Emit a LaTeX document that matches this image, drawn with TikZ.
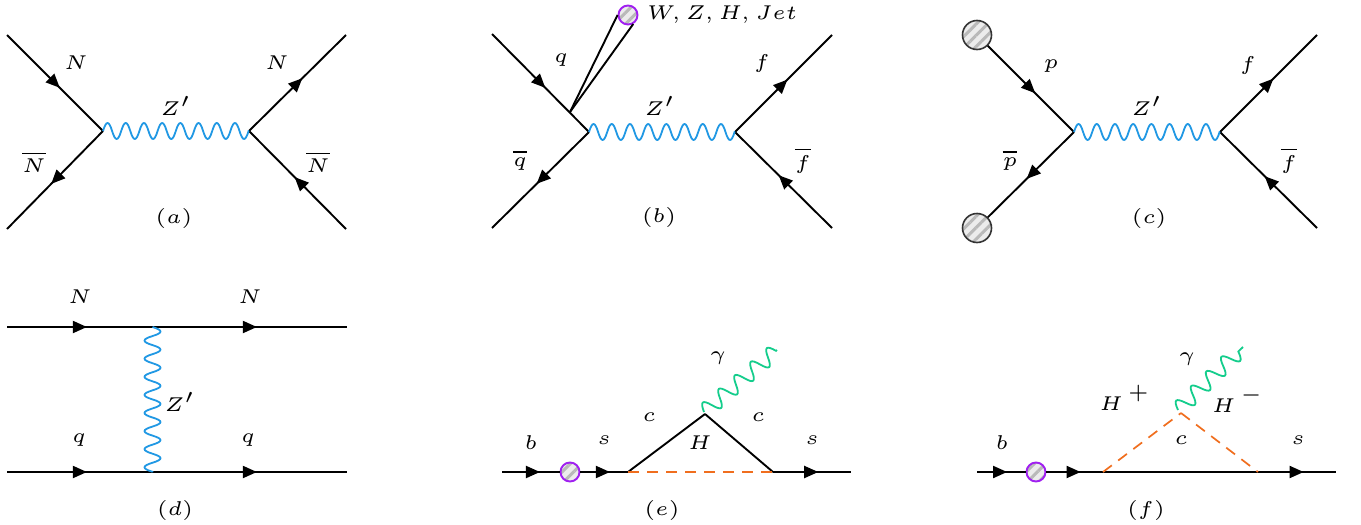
\documentclass[tikz,border=0pt]{standalone}
\usetikzlibrary{arrows.meta,decorations.markings,decorations,patterns.meta}
\definecolor{zblue}{RGB}{32,152,228}
\definecolor{pgreen}{RGB}{20,205,140}
\definecolor{horange}{RGB}{240,110,30}
\definecolor{vpurple}{RGB}{160,32,240}
\pgfdeclaredecoration{sinewave}{up}{
  \state{up}[width=0.5*\pgfdecorationsegmentlength,next state=down]{
    \pgfpathcurveto{\pgfpoint{0.1821*\pgfdecorationsegmentlength}{1.3333*\pgfdecorationsegmentamplitude}}
                   {\pgfpoint{0.3179*\pgfdecorationsegmentlength}{1.3333*\pgfdecorationsegmentamplitude}}
                   {\pgfpoint{0.5*\pgfdecorationsegmentlength}{0pt}}
  }
  \state{down}[width=0.5*\pgfdecorationsegmentlength,next state=up]{
    \pgfpathcurveto{\pgfpoint{0.1821*\pgfdecorationsegmentlength}{-1.3333*\pgfdecorationsegmentamplitude}}
                   {\pgfpoint{0.3179*\pgfdecorationsegmentlength}{-1.3333*\pgfdecorationsegmentamplitude}}
                   {\pgfpoint{0.5*\pgfdecorationsegmentlength}{0pt}}
  }
  \state{final}{\pgfpathlineto{\pgfpointdecoratedpathlast}}
}
\tikzset{
  lab/.style={font=\tiny,scale=4,transform shape,inner sep=0pt},
  fermion/.style={line width=1.9pt,black},
  arr/.style={postaction={decorate,decoration={markings,mark=at position #1 with {\arrow{Triangle[length=14pt,width=12pt]}}}}},
  zwave/.style={decorate,decoration={sinewave,segment length=#1,amplitude=8pt},line width=1.8pt,zblue},
  gwave/.style={decorate,decoration={sinewave,segment length=#1,amplitude=8pt},line width=1.8pt,pgreen},
  scalar/.style={dash pattern=on 11pt off 8pt,line width=1.7pt,horange},
  hatch/.style={circle,minimum size=#1,inner sep=0pt,preaction={fill=gray!15},pattern={Lines[angle=45,distance=8pt,line width=3pt]},pattern color=gray!55},
  blobp/.style={hatch=19pt,draw=vpurple,line width=1.9pt},
  blobk/.style={hatch=29pt,draw=black!80,line width=1.6pt}
}
\begin{document}
\begin{tikzpicture}[x=1pt,y=-1pt]
\useasboundingbox[fill=white] (0,0) rectangle (1361,525);
% (a)
\coordinate (a1) at (7,35); \coordinate (a2) at (7,229); \coordinate (av) at (103,131);
\coordinate (aw) at (249,131); \coordinate (a3) at (346,35); \coordinate (a4) at (346,229);
\draw[fermion,arr=.55] (a1) -- (av);
\draw[fermion,arr=.54] (av) -- (a2);
\draw[fermion,arr=.55] (aw) -- (a3);
\draw[fermion,arr=.53] (a4) -- (aw);
\draw[zwave=18.2pt] (av) -- (aw);
\node[lab] (la1) at (76,63) {$N$};
\node[lab] (la2) at (34,162) {$\overline{N}$};
\node[lab] (la3) at (176,106) {$Z'$};
\node[lab] (la4) at (277,63) {$N$};
\node[lab] (la5) at (318,162) {$\overline{N}$};
\node[lab] (la6) at (174,218) {$(a)$};
% (b)
\coordinate (b1) at (492,34); \coordinate (b2) at (492,228); \coordinate (bv) at (589,132);
\coordinate (bw) at (735,132); \coordinate (b3) at (832,35); \coordinate (b4) at (832,228);
\coordinate (bb) at (570,112);
\node[blobp] (bc) at (628,15) {};
\draw[fermion,arr=.55] (b1) -- (bv);
\draw[fermion,arr=.54] (bv) -- (b2);
\draw[fermion,arr=.54] (bw) -- (b3);
\draw[fermion,arr=.55] (b4) -- (bw);
\draw[fermion] (bb) -- (bc.180);
\draw[fermion] (bb) -- (bc.300);
\draw[zwave=18.2pt] (bv) -- (bw);
\node[lab] (lb1) at (561,60) {$q$};
\node[lab] (lb2) at (520,160) {$\overline{q}$};
\node[lab] (lb3) at (660,106) {$Z'$};
\node[lab] (lb4) at (762,63) {$f$};
\node[lab] (lb5) at (803,160) {$\overline{f}$};
\node[lab] (lb6) at (659,217) {$(b)$};
\node[lab,anchor=west] (lb7) at (646,15) {$W,Z,H,Jet$};
% (c)
\node[blobk] (c1) at (977,35) {};
\node[blobk] (c2) at (977,228) {};
\coordinate (cv) at (1074,132); \coordinate (cw) at (1220,132);
\coordinate (c3) at (1317,35); \coordinate (c4) at (1317,228);
\draw[fermion,arr=.55] (c1) -- (cv);
\draw[fermion,arr=.55] (cv) -- (c2);
\draw[fermion,arr=.55] (cw) -- (c3);
\draw[fermion,arr=.54] (c4) -- (cw);
\draw[zwave=18.2pt] (cv) -- (cw);
\node[lab] (lc1) at (1051,66) {$p$};
\node[lab] (lc2) at (1010,160) {$\overline{p}$};
\node[lab] (lc3) at (1147,106) {$Z'$};
\node[lab] (lc4) at (1248,65) {$f$};
\node[lab] (lc5) at (1289,160) {$\overline{f}$};
\node[lab] (lc6) at (1149,218) {$(c)$};
% (d)
\coordinate (d1) at (7,327); \coordinate (d2) at (347,327); \coordinate (d3) at (7,472); \coordinate (d4) at (347,472);
\coordinate (dt) at (152.5,327); \coordinate (db) at (152.5,472);
\draw[fermion,arr=.235,arr=.735] (d1) -- (d2);
\draw[fermion,arr=.235,arr=.735] (d3) -- (d4);
\draw[zwave=18.1pt] (dt) -- (db);
\node[lab] (ld1) at (80,297) {$N$};
\node[lab] (ld2) at (250,297) {$N$};
\node[lab] (ld3) at (79,440) {$q$};
\node[lab] (ld4) at (248,440) {$q$};
\node[lab] (ld5) at (180,402) {$Z'$};
\node[lab] (ld6) at (175,510) {$(d)$};
% (e)
\coordinate (e1) at (502,472); \coordinate (ev) at (628,472); \coordinate (ea) at (705,414);
\coordinate (ew) at (773,472); \coordinate (e2) at (851,472); \coordinate (eg) at (777,350);
\coordinate (es) at (704,412);
\node[blobp] (ec) at (570,472) {};
\draw[fermion,arr=.66] (e1) -- (ec);
\draw[fermion,arr=.62] (ec) -- (ev);
\draw[fermion] (ev) -- (ea);
\draw[fermion] (ea) -- (ew);
\draw[fermion,arr=.58] (ew) -- (e2);
\draw[scalar] (ev) -- (ew);
\draw[gwave=21pt] (es) -- (eg);
\node[lab] (le1) at (531,443) {$b$};
\node[lab] (le2) at (604,440) {$s$};
\node[lab] (le3) at (649,417) {$c$};
\node[lab] (le4) at (700,443) {$H$};
\node[lab] (le5) at (758,417) {$c$};
\node[lab] (le6) at (812,440) {$s$};
\node[lab] (le7) at (718,358) {$\gamma$};
\node[lab] (le8) at (662,510) {$(e)$};
% (f)
\coordinate (f1) at (977,472); \coordinate (fv) at (1103,472); \coordinate (fa) at (1181,413);
\coordinate (fw) at (1258,472); \coordinate (f2) at (1336,472); \coordinate (fg) at (1243,347);
\coordinate (fs) at (1178,410);
\node[blobp] (fc) at (1036,472) {};
\draw[fermion,arr=.62] (f1) -- (fc);
\draw[fermion,arr=.118] (fc) -- (f2);
\draw[fermion,arr=.585] (fw) -- (f2);
\draw[scalar] (fv) -- (fa);
\draw[scalar] (fa) -- (fw);
\draw[gwave=21pt] (fs) -- (fg);
\node[lab] (lf1) at (1002,443) {$b$};
\node[lab] (lf2) at (1298,440) {$s$};
\node[lab] (lf3) at (1181,440) {$c$};
\node[lab] (lf4) at (1125,398) {$H^{\,\raisebox{1pt}{$+$}}$};
\node[lab] (lf5) at (1238,400) {$H^{\,\raisebox{1pt}{$-$}}$};
\node[lab] (lf6) at (1187,359) {$\gamma$};
\node[lab] (lf7) at (1146,510) {$(f)$};
\end{tikzpicture}
\end{document}
